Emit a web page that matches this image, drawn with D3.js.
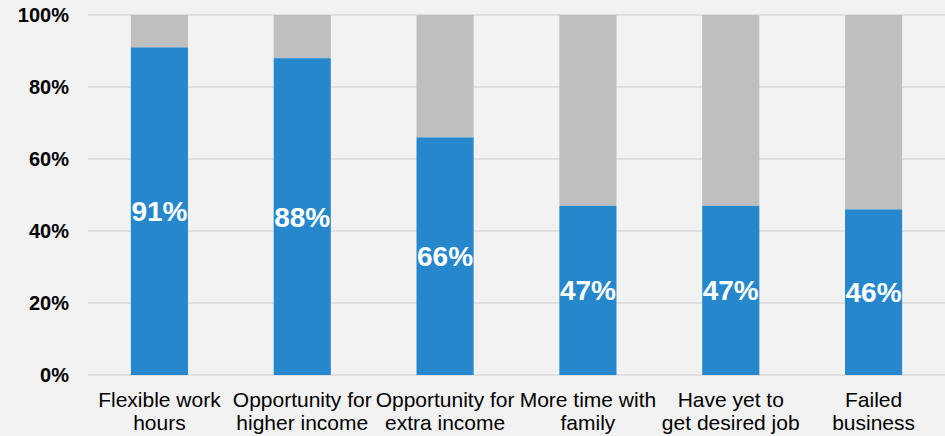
<!DOCTYPE html>
<html><head><meta charset="utf-8">
<script src="https://cdn.jsdelivr.net/npm/d3@7"></script>
<style>
html,body{margin:0;padding:0;background:#f2f2f2;}
svg{display:block;}
text{font-family:"Liberation Sans",Arial,sans-serif;}
</style></head>
<body>
<svg id="c" width="945" height="436"></svg>
<script>
const categories = [["Flexible work","hours"],["Opportunity for","higher income"],["Opportunity for","extra income"],["More time with","family"],["Have yet to","get desired job"],["Failed","business"]];
const values = [91, 88, 66, 47, 47, 46];
const yTicks = [0, 20, 40, 60, 80, 100];

const svg = d3.select("#c");
const W = 945, H = 436;
const m = {left: 88, right: 0, top: 15, bottom: 61};
const x = d3.scaleBand().domain(d3.range(categories.length)).range([m.left, W - m.right]).paddingInner(0.6).paddingOuter(0.3);
const y = d3.scaleLinear().domain([0, 100]).range([H - m.bottom, m.top]);

// gridlines
svg.append("g").selectAll("line").data(yTicks).join("line")
  .attr("x1", m.left).attr("x2", W - m.right)
  .attr("y1", d => y(d)).attr("y2", d => y(d))
  .attr("stroke", "#d9d9d9").attr("stroke-width", 1.5);

// y labels
svg.append("g").selectAll("text").data(yTicks).join("text")
  .attr("x", 69).attr("y", d => y(d)).attr("dy", "0.35em")
  .attr("text-anchor", "end").attr("font-size", 20).attr("font-weight", "bold").attr("fill", "#000")
  .text(d => d + "%");

// gray remainder
svg.append("g").selectAll("rect").data(values).join("rect")
  .attr("x", (d, i) => x(i)).attr("width", x.bandwidth())
  .attr("y", y(100)).attr("height", d => y(d) - y(100))
  .attr("fill", "#bfbfbf");

// blue bars
svg.append("g").selectAll("rect").data(values).join("rect")
  .attr("x", (d, i) => x(i)).attr("width", x.bandwidth())
  .attr("y", d => y(d)).attr("height", d => y(0) - y(d))
  .attr("fill", "#2687cc");

// value labels
svg.append("g").selectAll("text").data(values).join("text")
  .attr("x", (d, i) => x(i) + x.bandwidth() / 2)
  .attr("y", d => (y(d) + y(0)) / 2).attr("dy", "0.36em")
  .attr("text-anchor", "middle").attr("font-size", 28).attr("font-weight", "bold").attr("fill", "#fff")
  .text(d => d + "%");

// category labels
const cg = svg.append("g").selectAll("text").data(categories).join("text")
  .attr("text-anchor", "middle").attr("font-size", 21).attr("fill", "#000")
  .attr("x", (d, i) => x(i) + x.bandwidth() / 2);
cg.selectAll("tspan").data(d => d).join("tspan")
  .attr("x", function(){ return this.parentNode.getAttribute("x"); })
  .attr("y", (d, j) => 406.5 + j * 23.5)
  .text(d => d);
</script>
</body></html>
